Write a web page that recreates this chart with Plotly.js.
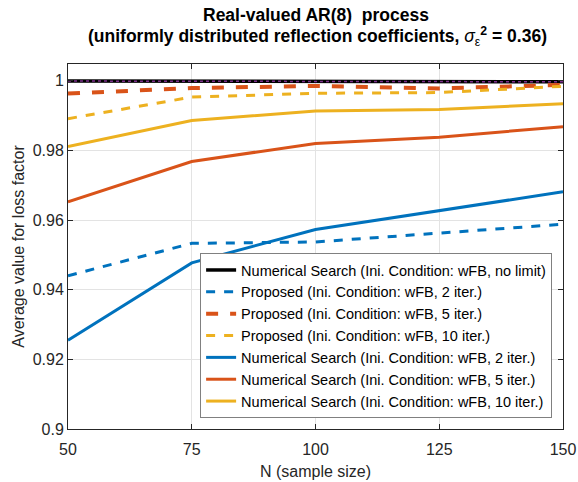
<!DOCTYPE html>
<html>
<head>
<meta charset="utf-8">
<script src="https://cdn.plot.ly/plotly-3.0.1.min.js"></script>
<style>
  html, body { margin: 0; padding: 0; background: #fff; }
  #chart { width: 578px; height: 482px; }
</style>
</head>
<body>
<div id="chart"></div>
<script>
// Sample sizes N
const sampleSizes = [50, 75, 100, 125, 150];

// Average loss factor per method
const numSearchNoLimit = [0.9999, 0.9999, 0.9998, 0.9997, 0.9997];
const proposed2 = [0.9440, 0.9533, 0.9537, 0.9563, 0.9588];
const proposed5 = [0.9963, 0.9979, 0.9985, 0.9978, 0.9988];
const proposed10 = [0.9891, 0.9953, 0.9964, 0.9966, 0.9984];
const numSearch2 = [0.9255, 0.9477, 0.9573, 0.9626, 0.9681];
const numSearch5 = [0.9652, 0.9768, 0.9820, 0.9838, 0.9868];
const numSearch10 = [0.9811, 0.9886, 0.9913, 0.9917, 0.9934];

const yTicks = [0.9, 0.92, 0.94, 0.96, 0.98, 1];
const xTicks = [50, 75, 100, 125, 150];

const seriesNames = [
  'Numerical Search (Ini. Condition: wFB, no limit)',
  'Proposed (Ini. Condition: wFB, 2 iter.)',
  'Proposed (Ini. Condition: wFB, 5 iter.)',
  'Proposed (Ini. Condition: wFB, 10 iter.)',
  'Numerical Search (Ini. Condition: wFB, 2 iter.)',
  'Numerical Search (Ini. Condition: wFB, 5 iter.)',
  'Numerical Search (Ini. Condition: wFB, 10 iter.)'
];

const titleLine1 = '<b>Real-valued AR(8)&nbsp; process</b>';
const titleLine2 = '<b>(uniformly distributed reflection coefficients, </b><i>σ</i><sub>ε</sub><sup><b>2</b></sup><b> = 0.36)</b>';

const BLUE = '#0072BD', ORANGE = '#D95319', YELLOW = '#EDB120', PURPLE = '#7E2F8E';

function line(y, name, color, dash, width) {
  return {
    x: sampleSizes, y: y, name: name, type: 'scatter', mode: 'lines',
    line: { color: color, dash: dash, width: width }
  };
}

const traces = [
  line(numSearchNoLimit, seriesNames[0], '#000000', 'solid', 3.5),
  line(proposed2, seriesNames[1], BLUE, 'dash', 3),
  line(proposed5, seriesNames[2], ORANGE, 'dash', 4),
  line(proposed10, seriesNames[3], YELLOW, 'dash', 3),
  line(numSearch2, seriesNames[4], BLUE, 'solid', 3),
  line(numSearch5, seriesNames[5], ORANGE, 'solid', 3),
  line(numSearch10, seriesNames[6], YELLOW, 'solid', 3)
];
// dotted reference overlay on the unlimited search curve
const overlay = line(numSearchNoLimit, 'ref', PURPLE, 'dot', 1.5);
overlay.showlegend = false;
overlay.hoverinfo = 'skip';
traces.push(overlay);

const axisCommon = {
  showline: true, mirror: 'ticks', linecolor: '#262626', linewidth: 1,
  ticks: 'inside', ticklen: 5, tickcolor: '#262626',
  showgrid: true, gridcolor: '#e3e3e3', gridwidth: 1,
  zeroline: false,
  tickfont: { size: 16, color: '#262626' }
};

const layout = {
  width: 578, height: 482,
  margin: { l: 68, r: 15, t: 64, b: 53 },
  paper_bgcolor: '#ffffff', plot_bgcolor: '#ffffff',
  font: { family: 'Liberation Sans, Arial, sans-serif', color: '#262626' },
  annotations: [
    { text: titleLine1, xref: 'paper', yref: 'paper', x: 0.502, y: 1.134,
      xanchor: 'center', yanchor: 'middle', showarrow: false,
      font: { size: 17.5, color: '#000000' } },
    { text: titleLine2, xref: 'paper', yref: 'paper', x: 0.505, y: 1.0767,
      xanchor: 'center', yanchor: 'middle', showarrow: false,
      font: { size: 17.5, color: '#000000' } }
  ],
  xaxis: Object.assign({}, axisCommon, {
    range: [50, 150], tickvals: xTicks, ticktext: xTicks.map(String),
    ticklabelstandoff: 6,
    title: { text: 'N (sample size)', font: { size: 16, color: '#262626' }, standoff: 8 }
  }),
  yaxis: Object.assign({}, axisCommon, {
    range: [0.9, 1.0048], tickvals: yTicks, ticktext: yTicks.map(String),
    title: { text: 'Average value for loss factor', font: { size: 16, color: '#262626' }, standoff: 4 }
  }),
  legend: {
    x: 0.978, xanchor: 'right', y: 0.03, yanchor: 'bottom',
    bgcolor: '#ffffff', bordercolor: '#808080', borderwidth: 1,
    font: { size: 14.5, color: '#000000' },
    itemwidth: 30, tracegroupgap: 0
  },
  showlegend: true
};

Plotly.newPlot('chart', traces, layout, { displayModeBar: false, staticPlot: true });
</script>
</body>
</html>
